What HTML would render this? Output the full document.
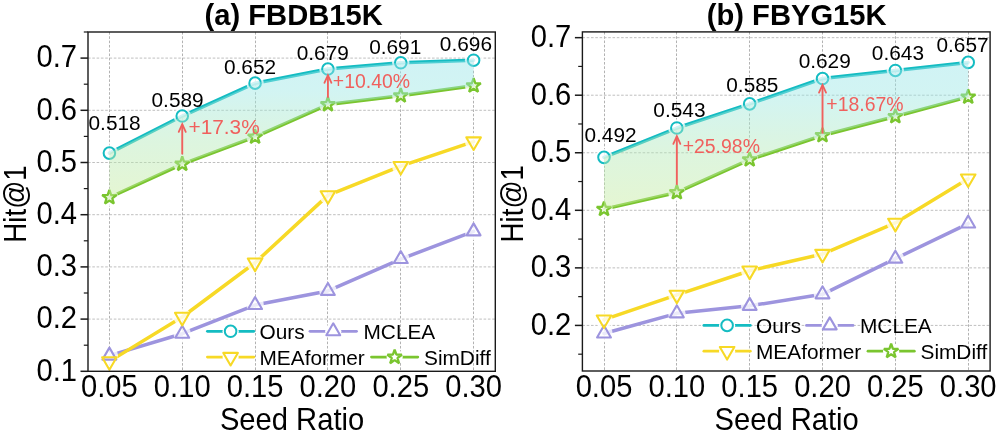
<!DOCTYPE html>
<html><head><meta charset="utf-8"><title>Hit@1 vs Seed Ratio</title>
<style>
html,body{margin:0;padding:0;background:#fff;}
body{width:997px;height:433px;overflow:hidden;font-family:"Liberation Sans", sans-serif;}
svg text{font-family:"Liberation Sans", sans-serif;}
</style></head><body>
<svg width="997" height="433" viewBox="0 0 997 433" style="display:block;will-change:transform">
<rect width="100%" height="100%" fill="#fff"/>
<defs>
<linearGradient id="gfill" x1="0" y1="0" x2="0" y2="1">
<stop offset="0" stop-color="#c5f0f2"/>
<stop offset="1" stop-color="#e2f3c4"/>
</linearGradient>
</defs>
<line x1="109.50" x2="109.50" y1="32.0" y2="371.3" stroke="#b2b2b2" stroke-width="1" stroke-dasharray="2.6 1.7"/>
<line x1="182.50" x2="182.50" y1="32.0" y2="371.3" stroke="#b2b2b2" stroke-width="1" stroke-dasharray="2.6 1.7"/>
<line x1="255.50" x2="255.50" y1="32.0" y2="371.3" stroke="#b2b2b2" stroke-width="1" stroke-dasharray="2.6 1.7"/>
<line x1="327.50" x2="327.50" y1="32.0" y2="371.3" stroke="#b2b2b2" stroke-width="1" stroke-dasharray="2.6 1.7"/>
<line x1="400.50" x2="400.50" y1="32.0" y2="371.3" stroke="#b2b2b2" stroke-width="1" stroke-dasharray="2.6 1.7"/>
<line x1="473.50" x2="473.50" y1="32.0" y2="371.3" stroke="#b2b2b2" stroke-width="1" stroke-dasharray="2.6 1.7"/>
<line x1="88.0" x2="495.3" y1="319.10" y2="319.10" stroke="#b8b8b8" stroke-width="0.9" stroke-dasharray="2.6 1.7"/>
<line x1="88.0" x2="495.3" y1="266.90" y2="266.90" stroke="#b8b8b8" stroke-width="0.9" stroke-dasharray="2.6 1.7"/>
<line x1="88.0" x2="495.3" y1="214.70" y2="214.70" stroke="#b8b8b8" stroke-width="0.9" stroke-dasharray="2.6 1.7"/>
<line x1="88.0" x2="495.3" y1="162.50" y2="162.50" stroke="#b8b8b8" stroke-width="0.9" stroke-dasharray="2.6 1.7"/>
<line x1="88.0" x2="495.3" y1="110.30" y2="110.30" stroke="#b8b8b8" stroke-width="0.9" stroke-dasharray="2.6 1.7"/>
<line x1="88.0" x2="495.3" y1="58.10" y2="58.10" stroke="#b8b8b8" stroke-width="0.9" stroke-dasharray="2.6 1.7"/>
<clipPath id="clipa"><rect x="88.0" y="32.0" width="407.3" height="347.3"/></clipPath>
<g clip-path="url(#clipa)">
<path d="M109.40 355.64 L182.24 333.72 L255.08 305.01 L327.92 290.91 L400.76 259.07 L473.60 231.40" fill="none" stroke="#9d94de" stroke-width="3.5" stroke-linecap="round" stroke-linejoin="round"/>
<path d="M109.40 361.38 L182.24 317.01 L255.08 262.72 L327.92 195.39 L400.76 166.15 L473.60 141.62" fill="none" stroke="#f7d926" stroke-width="3.5" stroke-linecap="round" stroke-linejoin="round"/>
<path d="M109.40 197.47 L182.24 164.07 L255.08 136.92 L327.92 104.56 L400.76 95.68 L473.60 85.77" fill="none" stroke="#7ac52f" stroke-width="3.5" stroke-linecap="round" stroke-linejoin="round"/>
<path d="M109.40 153.10 L182.24 116.04 L255.08 83.16 L327.92 69.06 L400.76 62.80 L473.60 60.19" fill="none" stroke="#14bcc2" stroke-width="3.5" stroke-linecap="round" stroke-linejoin="round"/>
<circle cx="109.40" cy="355.64" r="8.7" fill="#fff" fill-opacity="0.8"/>
<circle cx="182.24" cy="333.72" r="8.7" fill="#fff" fill-opacity="0.8"/>
<circle cx="255.08" cy="305.01" r="8.7" fill="#fff" fill-opacity="0.8"/>
<circle cx="327.92" cy="290.91" r="8.7" fill="#fff" fill-opacity="0.8"/>
<circle cx="400.76" cy="259.07" r="8.7" fill="#fff" fill-opacity="0.8"/>
<circle cx="473.60" cy="231.40" r="8.7" fill="#fff" fill-opacity="0.8"/>
<circle cx="109.40" cy="361.38" r="8.7" fill="#fff" fill-opacity="0.8"/>
<circle cx="182.24" cy="317.01" r="8.7" fill="#fff" fill-opacity="0.8"/>
<circle cx="255.08" cy="262.72" r="8.7" fill="#fff" fill-opacity="0.8"/>
<circle cx="327.92" cy="195.39" r="8.7" fill="#fff" fill-opacity="0.8"/>
<circle cx="400.76" cy="166.15" r="8.7" fill="#fff" fill-opacity="0.8"/>
<circle cx="473.60" cy="141.62" r="8.7" fill="#fff" fill-opacity="0.8"/>
<path d="M109.40 347.64 L116.33 359.64 L102.47 359.64 Z" fill="none" stroke="#9d94de" stroke-width="2.1" stroke-linejoin="round"/>
<path d="M182.24 325.72 L189.17 337.72 L175.31 337.72 Z" fill="none" stroke="#9d94de" stroke-width="2.1" stroke-linejoin="round"/>
<path d="M255.08 297.01 L262.01 309.01 L248.15 309.01 Z" fill="none" stroke="#9d94de" stroke-width="2.1" stroke-linejoin="round"/>
<path d="M327.92 282.91 L334.85 294.91 L320.99 294.91 Z" fill="none" stroke="#9d94de" stroke-width="2.1" stroke-linejoin="round"/>
<path d="M400.76 251.07 L407.69 263.07 L393.83 263.07 Z" fill="none" stroke="#9d94de" stroke-width="2.1" stroke-linejoin="round"/>
<path d="M473.60 223.40 L480.53 235.40 L466.67 235.40 Z" fill="none" stroke="#9d94de" stroke-width="2.1" stroke-linejoin="round"/>
<path d="M109.40 369.78 L116.67 357.18 L102.13 357.18 Z" fill="none" stroke="#f7d926" stroke-width="2.1" stroke-linejoin="round"/>
<path d="M182.24 325.41 L189.51 312.81 L174.97 312.81 Z" fill="none" stroke="#f7d926" stroke-width="2.1" stroke-linejoin="round"/>
<path d="M255.08 271.12 L262.35 258.52 L247.81 258.52 Z" fill="none" stroke="#f7d926" stroke-width="2.1" stroke-linejoin="round"/>
<path d="M327.92 203.79 L335.19 191.19 L320.65 191.19 Z" fill="none" stroke="#f7d926" stroke-width="2.1" stroke-linejoin="round"/>
<path d="M400.76 174.55 L408.03 161.95 L393.49 161.95 Z" fill="none" stroke="#f7d926" stroke-width="2.1" stroke-linejoin="round"/>
<path d="M473.60 150.02 L480.87 137.42 L466.33 137.42 Z" fill="none" stroke="#f7d926" stroke-width="2.1" stroke-linejoin="round"/>
<circle cx="109.40" cy="197.47" r="8.7" fill="#fff" fill-opacity="0.8"/>
<path d="M109.40 189.87 L111.16 195.05 L116.63 195.13 L112.25 198.40 L113.87 203.62 L109.40 200.47 L104.93 203.62 L106.55 198.40 L102.17 195.13 L107.64 195.05Z" fill="none" stroke="#7ac52f" stroke-width="2.3" stroke-linejoin="bevel"/>
<circle cx="182.24" cy="164.07" r="8.7" fill="#fff" fill-opacity="0.8"/>
<path d="M182.24 156.47 L184.00 161.64 L189.47 161.72 L185.09 164.99 L186.71 170.21 L182.24 167.07 L177.77 170.21 L179.39 164.99 L175.01 161.72 L180.48 161.64Z" fill="none" stroke="#7ac52f" stroke-width="2.3" stroke-linejoin="bevel"/>
<circle cx="255.08" cy="136.92" r="8.7" fill="#fff" fill-opacity="0.8"/>
<path d="M255.08 129.32 L256.84 134.49 L262.31 134.57 L257.93 137.85 L259.55 143.07 L255.08 139.92 L250.61 143.07 L252.23 137.85 L247.85 134.57 L253.32 134.49Z" fill="none" stroke="#7ac52f" stroke-width="2.3" stroke-linejoin="bevel"/>
<circle cx="327.92" cy="104.56" r="8.7" fill="#fff" fill-opacity="0.8"/>
<path d="M327.92 96.96 L329.68 102.13 L335.15 102.21 L330.77 105.49 L332.39 110.71 L327.92 107.56 L323.45 110.71 L325.07 105.49 L320.69 102.21 L326.16 102.13Z" fill="none" stroke="#7ac52f" stroke-width="2.3" stroke-linejoin="bevel"/>
<circle cx="400.76" cy="95.68" r="8.7" fill="#fff" fill-opacity="0.8"/>
<path d="M400.76 88.08 L402.52 93.26 L407.99 93.34 L403.61 96.61 L405.23 101.83 L400.76 98.68 L396.29 101.83 L397.91 96.61 L393.53 93.34 L399.00 93.26Z" fill="none" stroke="#7ac52f" stroke-width="2.3" stroke-linejoin="bevel"/>
<circle cx="473.60" cy="85.77" r="8.7" fill="#fff" fill-opacity="0.8"/>
<path d="M473.60 78.17 L475.36 83.34 L480.83 83.42 L476.45 86.69 L478.07 91.91 L473.60 88.77 L469.13 91.91 L470.75 86.69 L466.37 83.42 L471.84 83.34Z" fill="none" stroke="#7ac52f" stroke-width="2.3" stroke-linejoin="bevel"/>
<circle cx="109.40" cy="153.10" r="8.7" fill="#fff" fill-opacity="0.8"/>
<circle cx="109.40" cy="153.10" r="5.8" fill="none" stroke="#14bcc2" stroke-width="2.0"/>
<circle cx="182.24" cy="116.04" r="8.7" fill="#fff" fill-opacity="0.8"/>
<circle cx="182.24" cy="116.04" r="5.8" fill="none" stroke="#14bcc2" stroke-width="2.0"/>
<circle cx="255.08" cy="83.16" r="8.7" fill="#fff" fill-opacity="0.8"/>
<circle cx="255.08" cy="83.16" r="5.8" fill="none" stroke="#14bcc2" stroke-width="2.0"/>
<circle cx="327.92" cy="69.06" r="8.7" fill="#fff" fill-opacity="0.8"/>
<circle cx="327.92" cy="69.06" r="5.8" fill="none" stroke="#14bcc2" stroke-width="2.0"/>
<circle cx="400.76" cy="62.80" r="8.7" fill="#fff" fill-opacity="0.8"/>
<circle cx="400.76" cy="62.80" r="5.8" fill="none" stroke="#14bcc2" stroke-width="2.0"/>
<circle cx="473.60" cy="60.19" r="8.7" fill="#fff" fill-opacity="0.8"/>
<circle cx="473.60" cy="60.19" r="5.8" fill="none" stroke="#14bcc2" stroke-width="2.0"/>
</g>
<linearGradient id="ga" gradientUnits="userSpaceOnUse" x1="0" y1="60.2" x2="0" y2="197.5"><stop offset="0" stop-color="#97e4e9"/><stop offset="0.22" stop-color="#9be7e4"/><stop offset="0.6" stop-color="#b3e9b8"/><stop offset="1" stop-color="#c5eb9b"/></linearGradient>
<path d="M109.40 153.10 L182.24 116.04 L255.08 83.16 L327.92 69.06 L400.76 62.80 L473.60 60.19 L473.60 85.77 L400.76 95.68 L327.92 104.56 L255.08 136.92 L182.24 164.07 L109.40 197.47Z" fill="url(#ga)" fill-opacity="0.45"/>
<path d="M182.24 154.37 L182.24 124.49" stroke="#f0605d" stroke-width="1.9" fill="none"/>
<path d="M178.74 131.89 L182.24 124.19 L185.74 131.89" stroke="#f0605d" stroke-width="1.8" fill="none" stroke-linejoin="miter" stroke-linecap="round"/>
<text transform="translate(188.50 133.90) scale(1 1.0)" font-size="20.83" text-anchor="start" fill="#f0605d">+17.3%</text>
<path d="M327.92 97.76 L327.92 75.36" stroke="#f0605d" stroke-width="1.9" fill="none"/>
<path d="M324.42 82.76 L327.92 75.06 L331.42 82.76" stroke="#f0605d" stroke-width="1.8" fill="none" stroke-linejoin="miter" stroke-linecap="round"/>
<text transform="translate(332.85 88.10) scale(1 1.0)" font-size="19.44" text-anchor="start" fill="#f0605d">+10.40%</text>
<text transform="translate(114.60 130.20) scale(1 1.0)" font-size="20.83" text-anchor="middle" fill="#000">0.518</text>
<text transform="translate(177.60 106.60) scale(1 1.0)" font-size="20.83" text-anchor="middle" fill="#000">0.589</text>
<text transform="translate(250.00 74.30) scale(1 1.0)" font-size="20.83" text-anchor="middle" fill="#000">0.652</text>
<text transform="translate(322.80 60.30) scale(1 1.0)" font-size="20.83" text-anchor="middle" fill="#000">0.679</text>
<text transform="translate(395.20 54.10) scale(1 1.0)" font-size="20.83" text-anchor="middle" fill="#000">0.691</text>
<text transform="translate(465.90 50.80) scale(1 1.0)" font-size="20.83" text-anchor="middle" fill="#000">0.696</text>
<rect x="88.0" y="32.0" width="407.30" height="339.30" fill="none" stroke="#1a1a1a" stroke-width="1.4"/>
<line x1="80.5" x2="88.0" y1="371.30" y2="371.30" stroke="#1a1a1a" stroke-width="1.5"/>
<text transform="translate(77.10 380.60) scale(1 1.06)" font-size="29.17" text-anchor="end" fill="#000">0.1</text>
<line x1="80.5" x2="88.0" y1="319.10" y2="319.10" stroke="#1a1a1a" stroke-width="1.5"/>
<text transform="translate(77.10 328.40) scale(1 1.06)" font-size="29.17" text-anchor="end" fill="#000">0.2</text>
<line x1="80.5" x2="88.0" y1="266.90" y2="266.90" stroke="#1a1a1a" stroke-width="1.5"/>
<text transform="translate(77.10 276.20) scale(1 1.06)" font-size="29.17" text-anchor="end" fill="#000">0.3</text>
<line x1="80.5" x2="88.0" y1="214.70" y2="214.70" stroke="#1a1a1a" stroke-width="1.5"/>
<text transform="translate(77.10 224.00) scale(1 1.06)" font-size="29.17" text-anchor="end" fill="#000">0.4</text>
<line x1="80.5" x2="88.0" y1="162.50" y2="162.50" stroke="#1a1a1a" stroke-width="1.5"/>
<text transform="translate(77.10 171.80) scale(1 1.06)" font-size="29.17" text-anchor="end" fill="#000">0.5</text>
<line x1="80.5" x2="88.0" y1="110.30" y2="110.30" stroke="#1a1a1a" stroke-width="1.5"/>
<text transform="translate(77.10 119.60) scale(1 1.06)" font-size="29.17" text-anchor="end" fill="#000">0.6</text>
<line x1="80.5" x2="88.0" y1="58.10" y2="58.10" stroke="#1a1a1a" stroke-width="1.5"/>
<text transform="translate(77.10 67.40) scale(1 1.06)" font-size="29.17" text-anchor="end" fill="#000">0.7</text>
<line x1="83.8" x2="88.0" y1="345.20" y2="345.20" stroke="#1a1a1a" stroke-width="1.2"/>
<line x1="83.8" x2="88.0" y1="293.00" y2="293.00" stroke="#1a1a1a" stroke-width="1.2"/>
<line x1="83.8" x2="88.0" y1="240.80" y2="240.80" stroke="#1a1a1a" stroke-width="1.2"/>
<line x1="83.8" x2="88.0" y1="188.60" y2="188.60" stroke="#1a1a1a" stroke-width="1.2"/>
<line x1="83.8" x2="88.0" y1="136.40" y2="136.40" stroke="#1a1a1a" stroke-width="1.2"/>
<line x1="83.8" x2="88.0" y1="84.20" y2="84.20" stroke="#1a1a1a" stroke-width="1.2"/>
<line x1="83.8" x2="88.0" y1="32.00" y2="32.00" stroke="#1a1a1a" stroke-width="1.2"/>
<text transform="translate(109.40 397.10) scale(1 1.06)" font-size="29.17" text-anchor="middle" fill="#000">0.05</text>
<text transform="translate(182.24 397.10) scale(1 1.06)" font-size="29.17" text-anchor="middle" fill="#000">0.10</text>
<text transform="translate(255.08 397.10) scale(1 1.06)" font-size="29.17" text-anchor="middle" fill="#000">0.15</text>
<text transform="translate(327.92 397.10) scale(1 1.06)" font-size="29.17" text-anchor="middle" fill="#000">0.20</text>
<text transform="translate(400.76 397.10) scale(1 1.06)" font-size="29.17" text-anchor="middle" fill="#000">0.25</text>
<text transform="translate(473.60 397.10) scale(1 1.06)" font-size="29.17" text-anchor="middle" fill="#000">0.30</text>
<text transform="translate(292.05 429.80) scale(1 1.06)" font-size="29.17" text-anchor="middle" fill="#000">Seed Ratio</text>
<text transform="translate(25.60 203.95) rotate(-90) scale(0.95 1.06)" font-size="29.17" text-anchor="middle" fill="#000">Hit@1</text>
<text transform="translate(293.65 25.20) scale(1 1.02)" font-size="29.17" text-anchor="middle" fill="#000" font-weight="bold">(a) FBDB15K</text>
<path d="M207.40 331.30 L253.80 331.30" fill="none" stroke="#14bcc2" stroke-width="2.8" stroke-linecap="round" stroke-linejoin="round"/>
<circle cx="230.60" cy="331.30" r="8.1" fill="#fff" fill-opacity="1"/>
<circle cx="230.60" cy="331.30" r="5.8" fill="none" stroke="#14bcc2" stroke-width="2.0"/>
<text transform="translate(259.50 338.70) scale(1 1.0)" font-size="20.83" text-anchor="start" fill="#000">Ours</text>
<path d="M310.00 331.30 L356.50 331.30" fill="none" stroke="#9d94de" stroke-width="2.8" stroke-linecap="round" stroke-linejoin="round"/>
<circle cx="333.25" cy="331.30" r="8.1" fill="#fff" fill-opacity="1"/>
<path d="M333.25 323.30 L340.18 335.30 L326.32 335.30 Z" fill="none" stroke="#9d94de" stroke-width="2.1" stroke-linejoin="round"/>
<text transform="translate(363.50 338.70) scale(1 1.0)" font-size="20.83" text-anchor="start" fill="#000">MCLEA</text>
<path d="M207.40 357.10 L253.80 357.10" fill="none" stroke="#f7d926" stroke-width="2.8" stroke-linecap="round" stroke-linejoin="round"/>
<circle cx="230.60" cy="357.10" r="8.1" fill="#fff" fill-opacity="1"/>
<path d="M230.60 365.50 L237.87 352.90 L223.33 352.90 Z" fill="none" stroke="#f7d926" stroke-width="2.1" stroke-linejoin="round"/>
<text transform="translate(259.50 364.50) scale(1 1.0)" font-size="20.83" text-anchor="start" fill="#000">MEAformer</text>
<path d="M371.50 357.10 L417.80 357.10" fill="none" stroke="#7ac52f" stroke-width="2.8" stroke-linecap="round" stroke-linejoin="round"/>
<circle cx="394.65" cy="357.10" r="8.1" fill="#fff" fill-opacity="1"/>
<path d="M394.65 349.50 L396.41 354.67 L401.88 354.75 L397.50 358.03 L399.12 363.25 L394.65 360.10 L390.18 363.25 L391.80 358.03 L387.42 354.75 L392.89 354.67Z" fill="none" stroke="#7ac52f" stroke-width="2.3" stroke-linejoin="bevel"/>
<text transform="translate(424.00 364.50) scale(1 1.0)" font-size="20.83" text-anchor="start" fill="#000">SimDiff</text>
<line x1="604.50" x2="604.50" y1="31.9" y2="371.0" stroke="#b2b2b2" stroke-width="1" stroke-dasharray="2.6 1.7"/>
<line x1="676.50" x2="676.50" y1="31.9" y2="371.0" stroke="#b2b2b2" stroke-width="1" stroke-dasharray="2.6 1.7"/>
<line x1="749.50" x2="749.50" y1="31.9" y2="371.0" stroke="#b2b2b2" stroke-width="1" stroke-dasharray="2.6 1.7"/>
<line x1="822.50" x2="822.50" y1="31.9" y2="371.0" stroke="#b2b2b2" stroke-width="1" stroke-dasharray="2.6 1.7"/>
<line x1="895.50" x2="895.50" y1="31.9" y2="371.0" stroke="#b2b2b2" stroke-width="1" stroke-dasharray="2.6 1.7"/>
<line x1="968.50" x2="968.50" y1="31.9" y2="371.0" stroke="#b2b2b2" stroke-width="1" stroke-dasharray="2.6 1.7"/>
<line x1="582.4" x2="990.1" y1="325.42" y2="325.42" stroke="#b8b8b8" stroke-width="0.9" stroke-dasharray="2.6 1.7"/>
<line x1="582.4" x2="990.1" y1="267.87" y2="267.87" stroke="#b8b8b8" stroke-width="0.9" stroke-dasharray="2.6 1.7"/>
<line x1="582.4" x2="990.1" y1="210.31" y2="210.31" stroke="#b8b8b8" stroke-width="0.9" stroke-dasharray="2.6 1.7"/>
<line x1="582.4" x2="990.1" y1="152.76" y2="152.76" stroke="#b8b8b8" stroke-width="0.9" stroke-dasharray="2.6 1.7"/>
<line x1="582.4" x2="990.1" y1="95.21" y2="95.21" stroke="#b8b8b8" stroke-width="0.9" stroke-dasharray="2.6 1.7"/>
<line x1="582.4" x2="990.1" y1="37.66" y2="37.66" stroke="#b8b8b8" stroke-width="0.9" stroke-dasharray="2.6 1.7"/>
<clipPath id="clipb"><rect x="582.4" y="31.9" width="407.70000000000005" height="347.1"/></clipPath>
<g clip-path="url(#clipb)">
<path d="M604.00 333.48 L676.84 313.33 L749.68 305.85 L822.52 294.34 L895.36 258.66 L968.20 223.55" fill="none" stroke="#9d94de" stroke-width="3.5" stroke-linecap="round" stroke-linejoin="round"/>
<path d="M604.00 319.66 L676.84 294.92 L749.68 270.74 L822.52 254.05 L895.36 222.97 L968.20 178.66" fill="none" stroke="#f7d926" stroke-width="3.5" stroke-linecap="round" stroke-linejoin="round"/>
<path d="M604.00 209.16 L676.84 192.47 L749.68 159.67 L822.52 135.49 L895.36 116.50 L968.20 96.93" fill="none" stroke="#7ac52f" stroke-width="3.5" stroke-linecap="round" stroke-linejoin="round"/>
<path d="M604.00 157.36 L676.84 128.01 L749.68 103.84 L822.52 78.52 L895.36 70.46 L968.20 62.40" fill="none" stroke="#14bcc2" stroke-width="3.5" stroke-linecap="round" stroke-linejoin="round"/>
<circle cx="604.00" cy="333.48" r="8.7" fill="#fff" fill-opacity="0.8"/>
<circle cx="676.84" cy="313.33" r="8.7" fill="#fff" fill-opacity="0.8"/>
<circle cx="749.68" cy="305.85" r="8.7" fill="#fff" fill-opacity="0.8"/>
<circle cx="822.52" cy="294.34" r="8.7" fill="#fff" fill-opacity="0.8"/>
<circle cx="895.36" cy="258.66" r="8.7" fill="#fff" fill-opacity="0.8"/>
<circle cx="968.20" cy="223.55" r="8.7" fill="#fff" fill-opacity="0.8"/>
<circle cx="604.00" cy="319.66" r="8.7" fill="#fff" fill-opacity="0.8"/>
<circle cx="676.84" cy="294.92" r="8.7" fill="#fff" fill-opacity="0.8"/>
<circle cx="749.68" cy="270.74" r="8.7" fill="#fff" fill-opacity="0.8"/>
<circle cx="822.52" cy="254.05" r="8.7" fill="#fff" fill-opacity="0.8"/>
<circle cx="895.36" cy="222.97" r="8.7" fill="#fff" fill-opacity="0.8"/>
<circle cx="968.20" cy="178.66" r="8.7" fill="#fff" fill-opacity="0.8"/>
<path d="M604.00 325.48 L610.93 337.48 L597.07 337.48 Z" fill="none" stroke="#9d94de" stroke-width="2.1" stroke-linejoin="round"/>
<path d="M676.84 305.33 L683.77 317.33 L669.91 317.33 Z" fill="none" stroke="#9d94de" stroke-width="2.1" stroke-linejoin="round"/>
<path d="M749.68 297.85 L756.61 309.85 L742.75 309.85 Z" fill="none" stroke="#9d94de" stroke-width="2.1" stroke-linejoin="round"/>
<path d="M822.52 286.34 L829.45 298.34 L815.59 298.34 Z" fill="none" stroke="#9d94de" stroke-width="2.1" stroke-linejoin="round"/>
<path d="M895.36 250.66 L902.29 262.66 L888.43 262.66 Z" fill="none" stroke="#9d94de" stroke-width="2.1" stroke-linejoin="round"/>
<path d="M968.20 215.55 L975.13 227.55 L961.27 227.55 Z" fill="none" stroke="#9d94de" stroke-width="2.1" stroke-linejoin="round"/>
<path d="M604.00 328.06 L611.27 315.46 L596.73 315.46 Z" fill="none" stroke="#f7d926" stroke-width="2.1" stroke-linejoin="round"/>
<path d="M676.84 303.32 L684.11 290.72 L669.57 290.72 Z" fill="none" stroke="#f7d926" stroke-width="2.1" stroke-linejoin="round"/>
<path d="M749.68 279.14 L756.95 266.54 L742.41 266.54 Z" fill="none" stroke="#f7d926" stroke-width="2.1" stroke-linejoin="round"/>
<path d="M822.52 262.45 L829.79 249.85 L815.25 249.85 Z" fill="none" stroke="#f7d926" stroke-width="2.1" stroke-linejoin="round"/>
<path d="M895.36 231.37 L902.63 218.77 L888.09 218.77 Z" fill="none" stroke="#f7d926" stroke-width="2.1" stroke-linejoin="round"/>
<path d="M968.20 187.06 L975.47 174.46 L960.93 174.46 Z" fill="none" stroke="#f7d926" stroke-width="2.1" stroke-linejoin="round"/>
<circle cx="604.00" cy="209.16" r="8.7" fill="#fff" fill-opacity="0.8"/>
<path d="M604.00 201.56 L605.76 206.73 L611.23 206.81 L606.85 210.09 L608.47 215.31 L604.00 212.16 L599.53 215.31 L601.15 210.09 L596.77 206.81 L602.24 206.73Z" fill="none" stroke="#7ac52f" stroke-width="2.3" stroke-linejoin="bevel"/>
<circle cx="676.84" cy="192.47" r="8.7" fill="#fff" fill-opacity="0.8"/>
<path d="M676.84 184.87 L678.60 190.04 L684.07 190.12 L679.69 193.40 L681.31 198.62 L676.84 195.47 L672.37 198.62 L673.99 193.40 L669.61 190.12 L675.08 190.04Z" fill="none" stroke="#7ac52f" stroke-width="2.3" stroke-linejoin="bevel"/>
<circle cx="749.68" cy="159.67" r="8.7" fill="#fff" fill-opacity="0.8"/>
<path d="M749.68 152.07 L751.44 157.24 L756.91 157.32 L752.53 160.59 L754.15 165.82 L749.68 162.67 L745.21 165.82 L746.83 160.59 L742.45 157.32 L747.92 157.24Z" fill="none" stroke="#7ac52f" stroke-width="2.3" stroke-linejoin="bevel"/>
<circle cx="822.52" cy="135.49" r="8.7" fill="#fff" fill-opacity="0.8"/>
<path d="M822.52 127.89 L824.28 133.07 L829.75 133.15 L825.37 136.42 L826.99 141.64 L822.52 138.49 L818.05 141.64 L819.67 136.42 L815.29 133.15 L820.76 133.07Z" fill="none" stroke="#7ac52f" stroke-width="2.3" stroke-linejoin="bevel"/>
<circle cx="895.36" cy="116.50" r="8.7" fill="#fff" fill-opacity="0.8"/>
<path d="M895.36 108.90 L897.12 114.08 L902.59 114.15 L898.21 117.43 L899.83 122.65 L895.36 119.50 L890.89 122.65 L892.51 117.43 L888.13 114.15 L893.60 114.08Z" fill="none" stroke="#7ac52f" stroke-width="2.3" stroke-linejoin="bevel"/>
<circle cx="968.20" cy="96.93" r="8.7" fill="#fff" fill-opacity="0.8"/>
<path d="M968.20 89.33 L969.96 94.51 L975.43 94.59 L971.05 97.86 L972.67 103.08 L968.20 99.93 L963.73 103.08 L965.35 97.86 L960.97 94.59 L966.44 94.51Z" fill="none" stroke="#7ac52f" stroke-width="2.3" stroke-linejoin="bevel"/>
<circle cx="604.00" cy="157.36" r="8.7" fill="#fff" fill-opacity="0.8"/>
<circle cx="604.00" cy="157.36" r="5.8" fill="none" stroke="#14bcc2" stroke-width="2.0"/>
<circle cx="676.84" cy="128.01" r="8.7" fill="#fff" fill-opacity="0.8"/>
<circle cx="676.84" cy="128.01" r="5.8" fill="none" stroke="#14bcc2" stroke-width="2.0"/>
<circle cx="749.68" cy="103.84" r="8.7" fill="#fff" fill-opacity="0.8"/>
<circle cx="749.68" cy="103.84" r="5.8" fill="none" stroke="#14bcc2" stroke-width="2.0"/>
<circle cx="822.52" cy="78.52" r="8.7" fill="#fff" fill-opacity="0.8"/>
<circle cx="822.52" cy="78.52" r="5.8" fill="none" stroke="#14bcc2" stroke-width="2.0"/>
<circle cx="895.36" cy="70.46" r="8.7" fill="#fff" fill-opacity="0.8"/>
<circle cx="895.36" cy="70.46" r="5.8" fill="none" stroke="#14bcc2" stroke-width="2.0"/>
<circle cx="968.20" cy="62.40" r="8.7" fill="#fff" fill-opacity="0.8"/>
<circle cx="968.20" cy="62.40" r="5.8" fill="none" stroke="#14bcc2" stroke-width="2.0"/>
</g>
<linearGradient id="gb" gradientUnits="userSpaceOnUse" x1="0" y1="62.4" x2="0" y2="209.2"><stop offset="0" stop-color="#97e4e9"/><stop offset="0.22" stop-color="#9be7e4"/><stop offset="0.6" stop-color="#b3e9b8"/><stop offset="1" stop-color="#c5eb9b"/></linearGradient>
<path d="M604.00 157.36 L676.84 128.01 L749.68 103.84 L822.52 78.52 L895.36 70.46 L968.20 62.40 L968.20 96.93 L895.36 116.50 L822.52 135.49 L749.68 159.67 L676.84 192.47 L604.00 209.16Z" fill="url(#gb)" fill-opacity="0.45"/>
<path d="M676.84 184.87 L676.84 136.41" stroke="#f0605d" stroke-width="1.9" fill="none"/>
<path d="M673.34 143.81 L676.84 136.11 L680.34 143.81" stroke="#f0605d" stroke-width="1.8" fill="none" stroke-linejoin="miter" stroke-linecap="round"/>
<text transform="translate(682.65 152.70) scale(1 1.0)" font-size="19.44" text-anchor="start" fill="#f0605d">+25.98%</text>
<path d="M822.52 133.69 L822.52 85.17" stroke="#f0605d" stroke-width="1.9" fill="none"/>
<path d="M819.02 92.57 L822.52 84.87 L826.02 92.57" stroke="#f0605d" stroke-width="1.8" fill="none" stroke-linejoin="miter" stroke-linecap="round"/>
<text transform="translate(826.35 110.80) scale(1 1.0)" font-size="19.44" text-anchor="start" fill="#f0605d">+18.67%</text>
<text transform="translate(610.50 142.40) scale(1 1.0)" font-size="20.83" text-anchor="middle" fill="#000">0.492</text>
<text transform="translate(679.40 117.40) scale(1 1.0)" font-size="20.83" text-anchor="middle" fill="#000">0.543</text>
<text transform="translate(752.35 91.90) scale(1 1.0)" font-size="20.83" text-anchor="middle" fill="#000">0.585</text>
<text transform="translate(824.70 67.80) scale(1 1.0)" font-size="20.83" text-anchor="middle" fill="#000">0.629</text>
<text transform="translate(897.90 60.30) scale(1 1.0)" font-size="20.83" text-anchor="middle" fill="#000">0.643</text>
<text transform="translate(962.50 52.00) scale(1 1.0)" font-size="20.83" text-anchor="middle" fill="#000">0.657</text>
<rect x="582.4" y="31.9" width="407.70" height="339.10" fill="none" stroke="#1a1a1a" stroke-width="1.4"/>
<line x1="574.9" x2="582.4" y1="325.42" y2="325.42" stroke="#1a1a1a" stroke-width="1.5"/>
<text transform="translate(571.30 334.72) scale(1 1.06)" font-size="29.17" text-anchor="end" fill="#000">0.2</text>
<line x1="574.9" x2="582.4" y1="267.87" y2="267.87" stroke="#1a1a1a" stroke-width="1.5"/>
<text transform="translate(571.30 277.17) scale(1 1.06)" font-size="29.17" text-anchor="end" fill="#000">0.3</text>
<line x1="574.9" x2="582.4" y1="210.31" y2="210.31" stroke="#1a1a1a" stroke-width="1.5"/>
<text transform="translate(571.30 219.61) scale(1 1.06)" font-size="29.17" text-anchor="end" fill="#000">0.4</text>
<line x1="574.9" x2="582.4" y1="152.76" y2="152.76" stroke="#1a1a1a" stroke-width="1.5"/>
<text transform="translate(571.30 162.06) scale(1 1.06)" font-size="29.17" text-anchor="end" fill="#000">0.5</text>
<line x1="574.9" x2="582.4" y1="95.21" y2="95.21" stroke="#1a1a1a" stroke-width="1.5"/>
<text transform="translate(571.30 104.51) scale(1 1.06)" font-size="29.17" text-anchor="end" fill="#000">0.6</text>
<line x1="574.9" x2="582.4" y1="37.66" y2="37.66" stroke="#1a1a1a" stroke-width="1.5"/>
<text transform="translate(571.30 46.96) scale(1 1.06)" font-size="29.17" text-anchor="end" fill="#000">0.7</text>
<line x1="578.1999999999999" x2="582.4" y1="354.19" y2="354.19" stroke="#1a1a1a" stroke-width="1.2"/>
<line x1="578.1999999999999" x2="582.4" y1="296.64" y2="296.64" stroke="#1a1a1a" stroke-width="1.2"/>
<line x1="578.1999999999999" x2="582.4" y1="239.09" y2="239.09" stroke="#1a1a1a" stroke-width="1.2"/>
<line x1="578.1999999999999" x2="582.4" y1="181.54" y2="181.54" stroke="#1a1a1a" stroke-width="1.2"/>
<line x1="578.1999999999999" x2="582.4" y1="123.98" y2="123.98" stroke="#1a1a1a" stroke-width="1.2"/>
<line x1="578.1999999999999" x2="582.4" y1="66.43" y2="66.43" stroke="#1a1a1a" stroke-width="1.2"/>
<text transform="translate(604.00 397.10) scale(1 1.06)" font-size="29.17" text-anchor="middle" fill="#000">0.05</text>
<text transform="translate(676.84 397.10) scale(1 1.06)" font-size="29.17" text-anchor="middle" fill="#000">0.10</text>
<text transform="translate(749.68 397.10) scale(1 1.06)" font-size="29.17" text-anchor="middle" fill="#000">0.15</text>
<text transform="translate(822.52 397.10) scale(1 1.06)" font-size="29.17" text-anchor="middle" fill="#000">0.20</text>
<text transform="translate(895.36 397.10) scale(1 1.06)" font-size="29.17" text-anchor="middle" fill="#000">0.25</text>
<text transform="translate(968.20 397.10) scale(1 1.06)" font-size="29.17" text-anchor="middle" fill="#000">0.30</text>
<text transform="translate(786.65 429.80) scale(1 1.06)" font-size="29.17" text-anchor="middle" fill="#000">Seed Ratio</text>
<text transform="translate(522.80 203.75) rotate(-90) scale(0.95 1.06)" font-size="29.17" text-anchor="middle" fill="#000">Hit@1</text>
<text transform="translate(796.65 25.20) scale(1 1.02)" font-size="29.17" text-anchor="middle" fill="#000" font-weight="bold">(b) FBYG15K</text>
<path d="M703.90 325.40 L750.30 325.40" fill="none" stroke="#14bcc2" stroke-width="2.8" stroke-linecap="round" stroke-linejoin="round"/>
<circle cx="727.10" cy="325.40" r="8.1" fill="#fff" fill-opacity="1"/>
<circle cx="727.10" cy="325.40" r="5.8" fill="none" stroke="#14bcc2" stroke-width="2.0"/>
<text transform="translate(756.00 332.80) scale(1 1.0)" font-size="20.83" text-anchor="start" fill="#000">Ours</text>
<path d="M806.50 325.40 L853.00 325.40" fill="none" stroke="#9d94de" stroke-width="2.8" stroke-linecap="round" stroke-linejoin="round"/>
<circle cx="829.75" cy="325.40" r="8.1" fill="#fff" fill-opacity="1"/>
<path d="M829.75 317.40 L836.68 329.40 L822.82 329.40 Z" fill="none" stroke="#9d94de" stroke-width="2.1" stroke-linejoin="round"/>
<text transform="translate(860.00 332.80) scale(1 1.0)" font-size="20.83" text-anchor="start" fill="#000">MCLEA</text>
<path d="M703.90 351.20 L750.30 351.20" fill="none" stroke="#f7d926" stroke-width="2.8" stroke-linecap="round" stroke-linejoin="round"/>
<circle cx="727.10" cy="351.20" r="8.1" fill="#fff" fill-opacity="1"/>
<path d="M727.10 359.60 L734.37 347.00 L719.83 347.00 Z" fill="none" stroke="#f7d926" stroke-width="2.1" stroke-linejoin="round"/>
<text transform="translate(756.00 358.60) scale(1 1.0)" font-size="20.83" text-anchor="start" fill="#000">MEAformer</text>
<path d="M868.00 351.20 L914.30 351.20" fill="none" stroke="#7ac52f" stroke-width="2.8" stroke-linecap="round" stroke-linejoin="round"/>
<circle cx="891.15" cy="351.20" r="8.1" fill="#fff" fill-opacity="1"/>
<path d="M891.15 343.60 L892.91 348.77 L898.38 348.85 L894.00 352.13 L895.62 357.35 L891.15 354.20 L886.68 357.35 L888.30 352.13 L883.92 348.85 L889.39 348.77Z" fill="none" stroke="#7ac52f" stroke-width="2.3" stroke-linejoin="bevel"/>
<text transform="translate(920.50 358.60) scale(1 1.0)" font-size="20.83" text-anchor="start" fill="#000">SimDiff</text>
</svg>
</body></html>
